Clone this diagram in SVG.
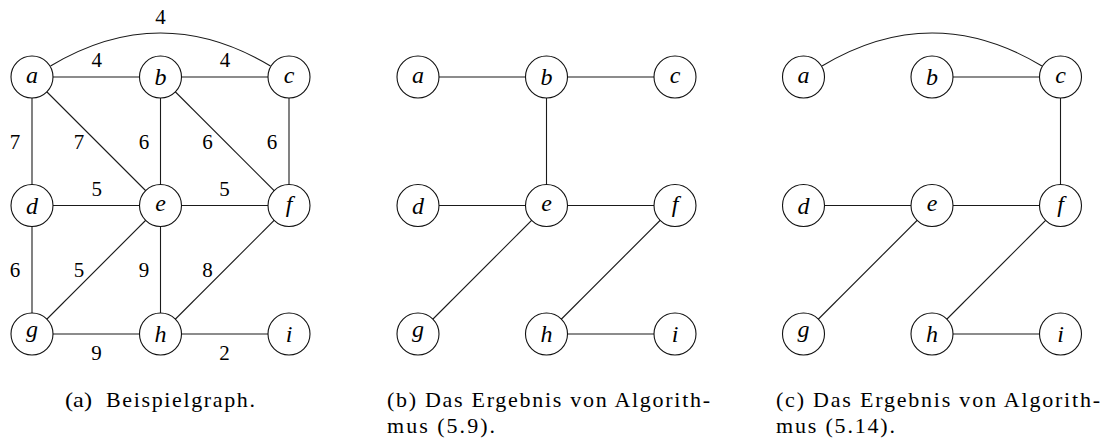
<svg xmlns="http://www.w3.org/2000/svg" width="1105" height="441" viewBox="0 0 1105 441">
<defs>
  <circle id="nd" r="21" fill="#fff" stroke="#111" stroke-width="1.1"/>
</defs>
<rect width="1105" height="441" fill="#fff"/>

<!-- connectors -->
<g id="connectors" stroke="#1a1a1a" stroke-width="1.1" fill="none">
  <path d="M50.5,66 Q160.5,0 270.5,66"/>
  <line x1="32" y1="77" x2="160.5" y2="77"/>
  <line x1="160.5" y1="77" x2="289" y2="77"/>
  <line x1="32" y1="77" x2="32" y2="205.5"/>
  <line x1="32" y1="77" x2="160.5" y2="205.5"/>
  <line x1="160.5" y1="77" x2="160.5" y2="205.5"/>
  <line x1="160.5" y1="77" x2="289" y2="205.5"/>
  <line x1="289" y1="77" x2="289" y2="205.5"/>
  <line x1="32" y1="205.5" x2="160.5" y2="205.5"/>
  <line x1="160.5" y1="205.5" x2="289" y2="205.5"/>
  <line x1="32" y1="205.5" x2="32" y2="334"/>
  <line x1="160.5" y1="205.5" x2="32" y2="334"/>
  <line x1="160.5" y1="205.5" x2="160.5" y2="334"/>
  <line x1="289" y1="205.5" x2="160.5" y2="334"/>
  <line x1="32" y1="334" x2="160.5" y2="334"/>
  <line x1="160.5" y1="334" x2="289" y2="334"/>
  <line x1="418" y1="77" x2="546.5" y2="77"/>
  <line x1="546.5" y1="77" x2="675" y2="77"/>
  <line x1="546.5" y1="77" x2="546.5" y2="205.5"/>
  <line x1="418" y1="205.5" x2="546.5" y2="205.5"/>
  <line x1="546.5" y1="205.5" x2="675" y2="205.5"/>
  <line x1="546.5" y1="205.5" x2="418" y2="334"/>
  <line x1="675" y1="205.5" x2="546.5" y2="334"/>
  <line x1="546.5" y1="334" x2="675" y2="334"/>
  <path d="M822,66 Q932,0 1042,66"/>
  <line x1="932" y1="77" x2="1060.5" y2="77"/>
  <line x1="1060.5" y1="77" x2="1060.5" y2="205.5"/>
  <line x1="803.5" y1="205.5" x2="932" y2="205.5"/>
  <line x1="932" y1="205.5" x2="1060.5" y2="205.5"/>
  <line x1="932" y1="205.5" x2="803.5" y2="334"/>
  <line x1="1060.5" y1="205.5" x2="932" y2="334"/>
  <line x1="932" y1="334" x2="1060.5" y2="334"/>
</g>

<g id="weights" text-anchor="middle">
  <text x="160.5" y="24" font-family="Liberation Serif" font-size="21">4</text>
  <text x="96.7" y="67" font-family="Liberation Serif" font-size="21">4</text>
  <text x="225" y="67" font-family="Liberation Serif" font-size="21">4</text>
  <text x="15" y="149" font-family="Liberation Serif" font-size="21">7</text>
  <text x="79" y="149" font-family="Liberation Serif" font-size="21">7</text>
  <text x="144" y="149" font-family="Liberation Serif" font-size="21">6</text>
  <text x="207.5" y="149" font-family="Liberation Serif" font-size="21">6</text>
  <text x="272" y="149" font-family="Liberation Serif" font-size="21">6</text>
  <text x="96.7" y="196" font-family="Liberation Serif" font-size="21">5</text>
  <text x="224.5" y="196" font-family="Liberation Serif" font-size="21">5</text>
  <text x="15" y="277" font-family="Liberation Serif" font-size="21">6</text>
  <text x="79" y="277" font-family="Liberation Serif" font-size="21">5</text>
  <text x="144" y="277" font-family="Liberation Serif" font-size="21">9</text>
  <text x="207.5" y="277" font-family="Liberation Serif" font-size="21">8</text>
  <text x="96.5" y="360" font-family="Liberation Serif" font-size="21">9</text>
  <text x="224.5" y="360" font-family="Liberation Serif" font-size="21">2</text>
</g>

<g id="nodes" text-anchor="middle">
<g id="a-a"><use href="#nd" x="32" y="77"/><text x="32" y="82.5" font-family="Liberation Serif" font-style="italic" font-size="24">a</text></g>
<g id="a-b"><use href="#nd" x="160.5" y="77"/><text x="160.5" y="85" font-family="Liberation Serif" font-style="italic" font-size="24">b</text></g>
<g id="a-c"><use href="#nd" x="289" y="77"/><text x="289" y="82.5" font-family="Liberation Serif" font-style="italic" font-size="24">c</text></g>
<g id="a-d"><use href="#nd" x="32" y="205.5"/><text x="32" y="213.5" font-family="Liberation Serif" font-style="italic" font-size="24">d</text></g>
<g id="a-e"><use href="#nd" x="160.5" y="205.5"/><text x="160.5" y="211" font-family="Liberation Serif" font-style="italic" font-size="24">e</text></g>
<g id="a-f"><use href="#nd" x="289" y="205.5"/><text x="289" y="211.5" font-family="Liberation Serif" font-style="italic" font-size="24">f</text></g>
<g id="a-g"><use href="#nd" x="32" y="334"/><text x="32" y="337" font-family="Liberation Serif" font-style="italic" font-size="24">g</text></g>
<g id="a-h"><use href="#nd" x="160.5" y="334"/><text x="160.5" y="342" font-family="Liberation Serif" font-style="italic" font-size="24">h</text></g>
<g id="a-i"><use href="#nd" x="289" y="334"/><text x="289" y="341.5" font-family="Liberation Serif" font-style="italic" font-size="24">i</text></g>

<g id="b-a"><use href="#nd" x="418" y="77"/><text x="418" y="82.5" font-family="Liberation Serif" font-style="italic" font-size="24">a</text></g>
<g id="b-b"><use href="#nd" x="546.5" y="77"/><text x="546.5" y="85" font-family="Liberation Serif" font-style="italic" font-size="24">b</text></g>
<g id="b-c"><use href="#nd" x="675" y="77"/><text x="675" y="82.5" font-family="Liberation Serif" font-style="italic" font-size="24">c</text></g>
<g id="b-d"><use href="#nd" x="418" y="205.5"/><text x="418" y="213.5" font-family="Liberation Serif" font-style="italic" font-size="24">d</text></g>
<g id="b-e"><use href="#nd" x="546.5" y="205.5"/><text x="546.5" y="211" font-family="Liberation Serif" font-style="italic" font-size="24">e</text></g>
<g id="b-f"><use href="#nd" x="675" y="205.5"/><text x="675" y="211.5" font-family="Liberation Serif" font-style="italic" font-size="24">f</text></g>
<g id="b-g"><use href="#nd" x="418" y="334"/><text x="418" y="337" font-family="Liberation Serif" font-style="italic" font-size="24">g</text></g>
<g id="b-h"><use href="#nd" x="546.5" y="334"/><text x="546.5" y="342" font-family="Liberation Serif" font-style="italic" font-size="24">h</text></g>
<g id="b-i"><use href="#nd" x="675" y="334"/><text x="675" y="341.5" font-family="Liberation Serif" font-style="italic" font-size="24">i</text></g>

<g id="c-a"><use href="#nd" x="803.5" y="77"/><text x="803.5" y="82.5" font-family="Liberation Serif" font-style="italic" font-size="24">a</text></g>
<g id="c-b"><use href="#nd" x="932" y="77"/><text x="932" y="85" font-family="Liberation Serif" font-style="italic" font-size="24">b</text></g>
<g id="c-c"><use href="#nd" x="1060.5" y="77"/><text x="1060.5" y="82.5" font-family="Liberation Serif" font-style="italic" font-size="24">c</text></g>
<g id="c-d"><use href="#nd" x="803.5" y="205.5"/><text x="803.5" y="213.5" font-family="Liberation Serif" font-style="italic" font-size="24">d</text></g>
<g id="c-e"><use href="#nd" x="932" y="205.5"/><text x="932" y="211" font-family="Liberation Serif" font-style="italic" font-size="24">e</text></g>
<g id="c-f"><use href="#nd" x="1060.5" y="205.5"/><text x="1060.5" y="211.5" font-family="Liberation Serif" font-style="italic" font-size="24">f</text></g>
<g id="c-g"><use href="#nd" x="803.5" y="334"/><text x="803.5" y="337" font-family="Liberation Serif" font-style="italic" font-size="24">g</text></g>
<g id="c-h"><use href="#nd" x="932" y="334"/><text x="932" y="342" font-family="Liberation Serif" font-style="italic" font-size="24">h</text></g>
<g id="c-i"><use href="#nd" x="1060.5" y="334"/><text x="1060.5" y="341.5" font-family="Liberation Serif" font-style="italic" font-size="24">i</text></g>
</g>

<g id="captions">
  <text x="65" y="407" font-family="Liberation Serif" font-size="22" textLength="27" lengthAdjust="spacingAndGlyphs">(a)</text>
  <text x="106" y="407" font-family="Liberation Serif" font-size="22" textLength="149" lengthAdjust="spacing">Beispielgraph.</text>
  <text x="387" y="407" font-family="Liberation Serif" font-size="22" textLength="323" lengthAdjust="spacing">(b) Das Ergebnis von Algorith-</text>
  <text x="387" y="433" font-family="Liberation Serif" font-size="22" textLength="108" lengthAdjust="spacing">mus (5.9).</text>
  <text x="776" y="407" font-family="Liberation Serif" font-size="22" textLength="324" lengthAdjust="spacing">(c) Das Ergebnis von Algorith-</text>
  <text x="776" y="433" font-family="Liberation Serif" font-size="22" textLength="119" lengthAdjust="spacing">mus (5.14).</text>
</g>
</svg>
